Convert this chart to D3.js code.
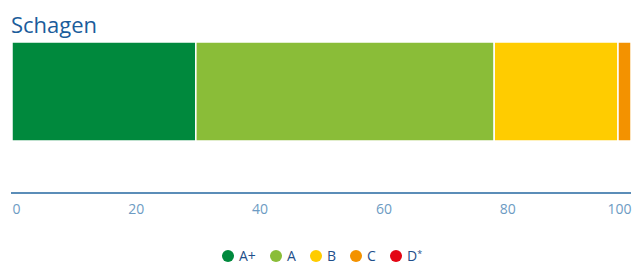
<!DOCTYPE html>
<html>
<head>
<meta charset="utf-8">
<script src="https://cdn.jsdelivr.net/npm/d3@7"></script>
<style>
  body { margin: 0; background: #fff; }
  svg { display: block; font-family: "Open Sans", "Noto Sans", sans-serif; }
</style>
</head>
<body>
<svg width="633" height="264"></svg>
<script>
// data
const title = 'Schagen';
const categories = ['A+', 'A', 'B', 'C', 'D*'];
const values = [29.7, 48.2, 20.0, 2.1, 0];
const colors = ['#00893d', '#8abd38', '#ffcc00', '#f39200', '#e30613'];
const ticks = [0, 20, 40, 60, 80, 100];

const svg = d3.select('svg');

const x = d3.scaleLinear().domain([0, 100]).range([12, 631]);
const y = d3.scaleBand().domain([title]).range([42, 141]);

// title
svg.append('text')
  .attr('x', 11)
  .attr('y', 33)
  .attr('fill', '#1b5c9b')
  .attr('font-size', 22)
  .text(title);

// stacked segments
let start = 0;
const segs = values.map((v, i) => {
  const s = { cat: categories[i], x0: start, x1: start + v, color: colors[i] };
  start += v;
  return s;
});

svg.selectAll('rect.seg').data(segs.filter(d => d.x1 > d.x0))
  .enter().append('rect')
  .attr('class', 'seg')
  .attr('x', d => x(d.x0))
  .attr('y', y(title))
  .attr('width', d => x(d.x1) - x(d.x0))
  .attr('height', y.bandwidth())
  .attr('fill', d => d.color)
  .attr('stroke', '#fff')
  .attr('stroke-width', 1.5);

// x axis
const axis = svg.append('g')
  .attr('transform', 'translate(0,193)')
  .call(d3.axisBottom(x).tickValues(ticks).tickSize(0).tickPadding(11));
axis.attr('font-size', 14).attr('font-family', null);
axis.select('.domain').attr('stroke', '#5b8db8').attr('stroke-width', 2).attr('d', 'M11,0H631');
axis.selectAll('text')
  .attr('fill', '#6d9bc3')
  .attr('text-anchor', (d, i) => i === 0 ? 'start' : (i === ticks.length - 1 ? 'end' : 'middle'));

// legend
const legendX = [228, 276, 316, 356, 396];
const legend = svg.selectAll('g.leg').data(categories)
  .enter().append('g')
  .attr('class', 'leg')
  .attr('transform', (d, i) => `translate(${legendX[i]},256)`);
legend.append('circle')
  .attr('r', 6)
  .attr('fill', (d, i) => colors[i]);
const lt = legend.append('text')
  .attr('x', 11)
  .attr('y', 5)
  .attr('fill', '#1f4f8b')
  .attr('font-size', 14);
lt.append('tspan').text(d => d.replace('*', ''));
lt.filter(d => d.includes('*')).append('tspan')
  .attr('font-size', 9)
  .attr('dy', -4)
  .text('*');
</script>
</body>
</html>
